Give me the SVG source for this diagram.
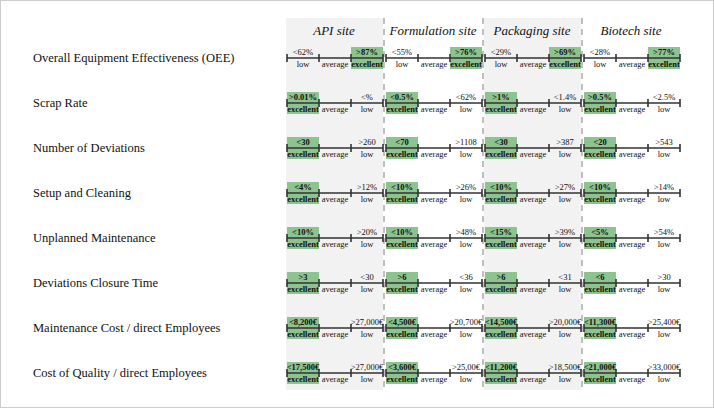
<svg xmlns="http://www.w3.org/2000/svg" width="714" height="408" viewBox="0 0 714 408">
<style>
.bg{fill:#f2f2f2}
.sep{stroke:#aaa;stroke-width:1.5;stroke-dasharray:6,5}
.hd{font-family:"Liberation Serif",serif;font-style:italic;font-size:13px;text-anchor:middle;fill:#111}
.lb{font-family:"Liberation Serif",serif;font-size:12.5px;fill:#111}
.ax{stroke:#333;stroke-width:1.6;fill:none}
.ex{fill:#8cc38f}
.t{font-family:"Liberation Serif",serif;font-size:8.5px;text-anchor:middle;fill:#111}
.b{font-weight:bold}
</style>
<defs>
<g id="axis"><path class="ax" stroke="#333" d="M0,0H96M0,-4V4M32,-4V4M64,-4V4M96,-4V4"/></g>
<g id="lowfirst"><rect class="ex" fill="#8cc38f" x="64" y="-11" width="32" height="22"/><use href="#axis"/><text class="t" fill="#111" x="16" y="9">low</text><text class="t" fill="#111" x="48" y="9">average</text><text class="t b" fill="#111" x="80" y="9">excellent</text></g>
<g id="exfirst"><rect class="ex" fill="#8cc38f" x="0" y="-11" width="32" height="22"/><use href="#axis"/><text class="t b" fill="#111" x="16" y="9">excellent</text><text class="t" fill="#111" x="48" y="9">average</text><text class="t" fill="#111" x="80" y="9">low</text></g>
</defs>
<rect x="0.5" y="0.5" width="713" height="407" fill="#fff" stroke="#ccc"/>
<rect class="bg" x="286" y="18" width="97" height="372"/>
<rect class="bg" x="484" y="18" width="97" height="372"/>
<g id="connectors">
<line class="sep" x1="384" y1="18" x2="384" y2="392"/>
<line class="sep" x1="483" y1="18" x2="483" y2="392"/>
<line class="sep" x1="582" y1="18" x2="582" y2="392"/>
</g>
<g id="headers">
<text class="hd" x="334" y="35">API site</text>
<text class="hd" x="433" y="35">Formulation site</text>
<text class="hd" x="532" y="35">Packaging site</text>
<text class="hd" x="631" y="35">Biotech site</text>
</g>
<g id="row1"><text class="lb" x="33" y="62">Overall Equipment Effectiveness (OEE)</text>
<g transform="translate(287,58)"><use href="#lowfirst"/><text class="t" x="16" y="-3">&lt;62%</text><text class="t b" x="80" y="-3">&gt;87%</text></g>
<g transform="translate(386,58)"><use href="#lowfirst"/><text class="t" x="16" y="-3">&lt;55%</text><text class="t b" x="80" y="-3">&gt;76%</text></g>
<g transform="translate(485,58)"><use href="#lowfirst"/><text class="t" x="16" y="-3">&lt;29%</text><text class="t b" x="80" y="-3">&gt;69%</text></g>
<g transform="translate(584,58)"><use href="#lowfirst"/><text class="t" x="16" y="-3">&lt;28%</text><text class="t b" x="80" y="-3">&gt;77%</text></g>
</g>
<g id="row2"><text class="lb" x="33" y="107">Scrap Rate</text>
<g transform="translate(287,103)"><use href="#exfirst"/><text class="t b" x="16" y="-3">&gt;0.01%</text><text class="t" x="80" y="-3">&lt;%</text></g>
<g transform="translate(386,103)"><use href="#exfirst"/><text class="t b" x="16" y="-3">&lt;0.5%</text><text class="t" x="80" y="-3">&lt;62%</text></g>
<g transform="translate(485,103)"><use href="#exfirst"/><text class="t b" x="16" y="-3">&gt;1%</text><text class="t" x="80" y="-3">&lt;1.4%</text></g>
<g transform="translate(584,103)"><use href="#exfirst"/><text class="t b" x="16" y="-3">&gt;0.5%</text><text class="t" x="80" y="-3">&lt;2.5%</text></g>
</g>
<g id="row3"><text class="lb" x="33" y="152">Number of Deviations</text>
<g transform="translate(287,148)"><use href="#exfirst"/><text class="t b" x="16" y="-3">&lt;30</text><text class="t" x="80" y="-3">&gt;260</text></g>
<g transform="translate(386,148)"><use href="#exfirst"/><text class="t b" x="16" y="-3">&lt;70</text><text class="t" x="80" y="-3">&gt;1108</text></g>
<g transform="translate(485,148)"><use href="#exfirst"/><text class="t b" x="16" y="-3">&lt;30</text><text class="t" x="80" y="-3">&gt;387</text></g>
<g transform="translate(584,148)"><use href="#exfirst"/><text class="t b" x="16" y="-3">&lt;20</text><text class="t" x="80" y="-3">&gt;543</text></g>
</g>
<g id="row4"><text class="lb" x="33" y="197">Setup and Cleaning</text>
<g transform="translate(287,193)"><use href="#exfirst"/><text class="t b" x="16" y="-3">&lt;4%</text><text class="t" x="80" y="-3">&gt;12%</text></g>
<g transform="translate(386,193)"><use href="#exfirst"/><text class="t b" x="16" y="-3">&lt;10%</text><text class="t" x="80" y="-3">&gt;26%</text></g>
<g transform="translate(485,193)"><use href="#exfirst"/><text class="t b" x="16" y="-3">&lt;10%</text><text class="t" x="80" y="-3">&gt;27%</text></g>
<g transform="translate(584,193)"><use href="#exfirst"/><text class="t b" x="16" y="-3">&lt;10%</text><text class="t" x="80" y="-3">&gt;14%</text></g>
</g>
<g id="row5"><text class="lb" x="33" y="242">Unplanned Maintenance</text>
<g transform="translate(287,238)"><use href="#exfirst"/><text class="t b" x="16" y="-3">&lt;10%</text><text class="t" x="80" y="-3">&gt;20%</text></g>
<g transform="translate(386,238)"><use href="#exfirst"/><text class="t b" x="16" y="-3">&lt;10%</text><text class="t" x="80" y="-3">&gt;48%</text></g>
<g transform="translate(485,238)"><use href="#exfirst"/><text class="t b" x="16" y="-3">&lt;15%</text><text class="t" x="80" y="-3">&gt;39%</text></g>
<g transform="translate(584,238)"><use href="#exfirst"/><text class="t b" x="16" y="-3">&lt;5%</text><text class="t" x="80" y="-3">&gt;54%</text></g>
</g>
<g id="row6"><text class="lb" x="33" y="287">Deviations Closure Time</text>
<g transform="translate(287,283)"><use href="#exfirst"/><text class="t b" x="16" y="-3">&gt;3</text><text class="t" x="80" y="-3">&lt;30</text></g>
<g transform="translate(386,283)"><use href="#exfirst"/><text class="t b" x="16" y="-3">&gt;6</text><text class="t" x="80" y="-3">&lt;36</text></g>
<g transform="translate(485,283)"><use href="#exfirst"/><text class="t b" x="16" y="-3">&gt;6</text><text class="t" x="80" y="-3">&lt;31</text></g>
<g transform="translate(584,283)"><use href="#exfirst"/><text class="t b" x="16" y="-3">&lt;6</text><text class="t" x="80" y="-3">&gt;30</text></g>
</g>
<g id="row7"><text class="lb" x="33" y="332">Maintenance Cost / direct Employees</text>
<g transform="translate(287,328)"><use href="#exfirst"/><text class="t b" x="16" y="-3">&lt;8,200€</text><text class="t" x="80" y="-3">&gt;27,000€</text></g>
<g transform="translate(386,328)"><use href="#exfirst"/><text class="t b" x="16" y="-3">&lt;4,500€</text><text class="t" x="80" y="-3">&gt;20,700€</text></g>
<g transform="translate(485,328)"><use href="#exfirst"/><text class="t b" x="16" y="-3">&lt;14,500€</text><text class="t" x="80" y="-3">&gt;20,000€</text></g>
<g transform="translate(584,328)"><use href="#exfirst"/><text class="t b" x="16" y="-3">&lt;11,300€</text><text class="t" x="80" y="-3">&gt;25,400€</text></g>
</g>
<g id="row8"><text class="lb" x="33" y="377">Cost of Quality / direct Employees</text>
<g transform="translate(287,373)"><use href="#exfirst"/><text class="t b" x="16" y="-3">&lt;17,500€</text><text class="t" x="80" y="-3">&gt;27,000€</text></g>
<g transform="translate(386,373)"><use href="#exfirst"/><text class="t b" x="16" y="-3">&lt;3,600€</text><text class="t" x="80" y="-3">&gt;25,00€</text></g>
<g transform="translate(485,373)"><use href="#exfirst"/><text class="t b" x="16" y="-3">&lt;11,200€</text><text class="t" x="80" y="-3">&gt;18,500€</text></g>
<g transform="translate(584,373)"><use href="#exfirst"/><text class="t b" x="16" y="-3">&lt;21,000€</text><text class="t" x="80" y="-3">&gt;33,000€</text></g>
</g>
</svg>
